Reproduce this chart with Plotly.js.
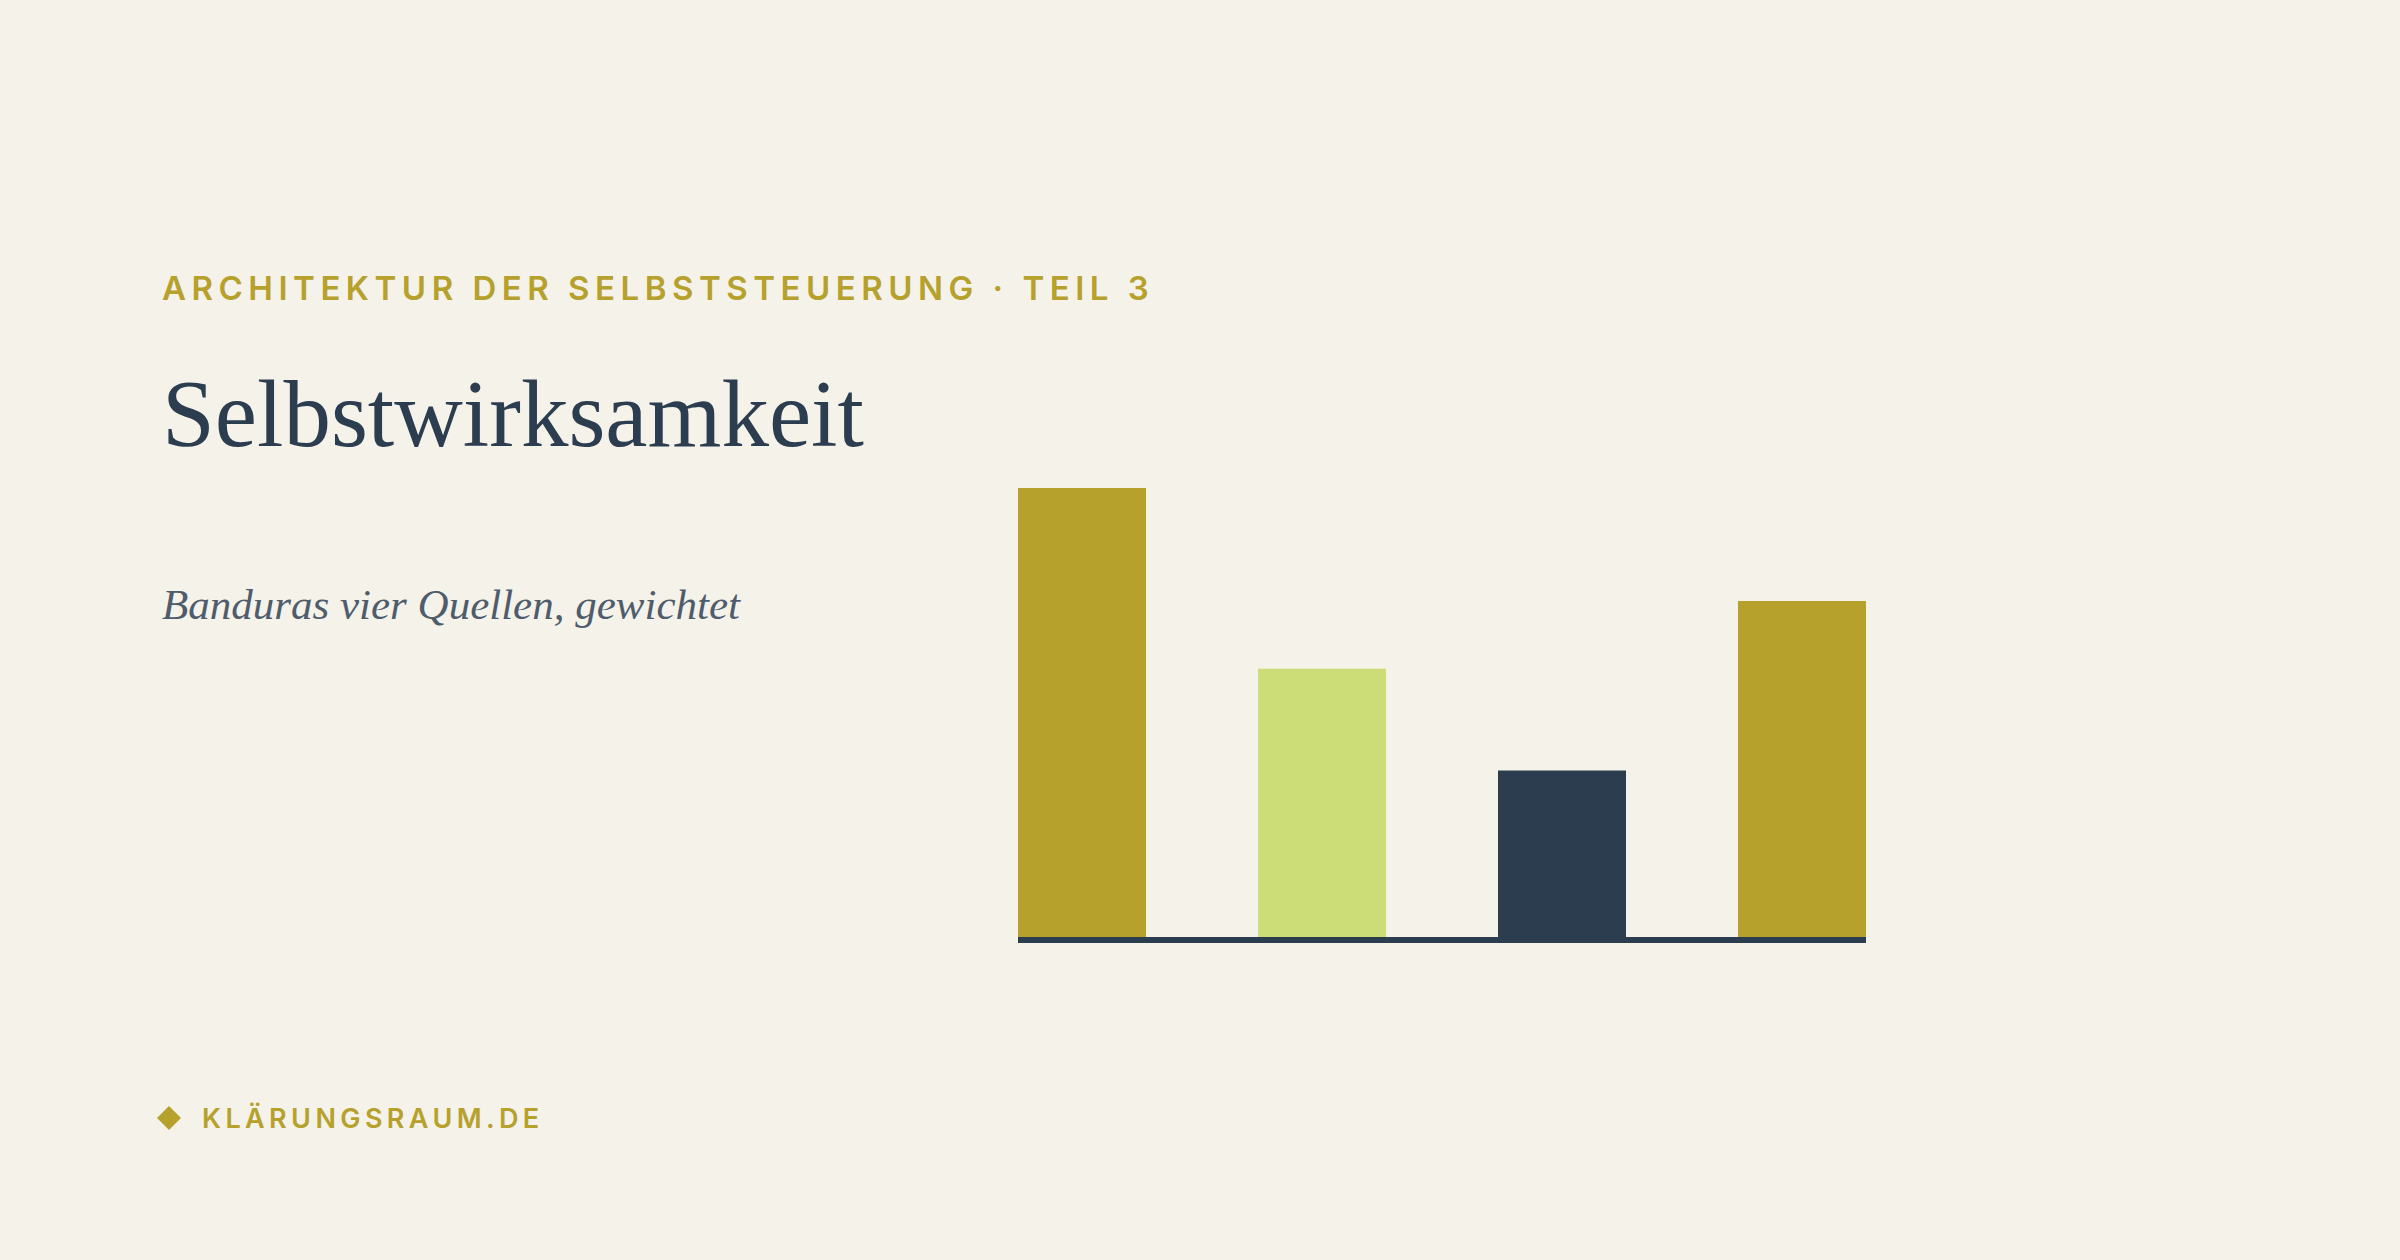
<!DOCTYPE html>
<html>
<head>
<meta charset="utf-8">
<script src="https://cdn.plot.ly/plotly-3.0.1.min.js"></script>
<style>
  html, body { margin: 0; padding: 0; background: #F5F2EA; }
  #chart { width: 2400px; height: 1260px; }
</style>
</head>
<body>
<div id="chart"></div>
<script>
// ---- data ----
const categories = ["Meisterungserfahrungen", "Stellvertretende Erfahrungen", "Verbale Überzeugung", "Physiologische Zustände"];
const weights = [40, 24, 15, 30];
const barColors = ["#B6A12D", "#CCDC76", "#2C3D50", "#B6A12D"];
const kicker = "ARCHITEKTUR DER SELBSTSTEUERUNG · TEIL 3";
const headline = "Selbstwirksamkeit";
const subline = "Banduras vier Quellen, gewichtet";
const footer = "KLÄRUNGSRAUM.DE";

// ---- layout helpers (pixel -> paper) ----
const W = 2400, H = 1260;
const M = { l: 1018, r: 534, t: 488, b: 320 };
const PW = W - M.l - M.r, PH = H - M.t - M.b;
const px = x => (x - M.l) / PW;
const py = y => (H - M.b - y) / PH;

const navy = "#2C3D50";
const olive = "#B6A12D";

const trace = {
  type: "bar",
  x: categories,
  y: weights,
  width: 128 / 240,
  marker: { color: barColors, line: { width: 0 } },
  hoverinfo: "x+y"
};

const dx = 12;
const layout = {
  width: W, height: H,
  margin: M,
  paper_bgcolor: "#F5F2EA",
  plot_bgcolor: "#F5F2EA",
  showlegend: false,
  xaxis: { type: "category", range: [-64/240, 3 + 64/240], showticklabels: false, showgrid: false, zeroline: false, showline: false, ticks: "", fixedrange: true },
  yaxis: { range: [0, 40], showticklabels: false, showgrid: false, zeroline: false, showline: false, ticks: "", fixedrange: true },
  shapes: [
    { type: "line", xref: "paper", yref: "paper", x0: 0, x1: 1, y0: py(940), y1: py(940), layer: "above", line: { color: navy, width: 6 } },
    { type: "path", xref: "paper", yref: "paper",
      path: `M ${px(169-dx)} ${py(1118)} L ${px(169)} ${py(1118-dx)} L ${px(169+dx)} ${py(1118)} L ${px(169)} ${py(1118+dx)} Z`,
      fillcolor: olive, line: { width: 0 } }
  ],
  annotations: [
    { text: kicker, xref: "paper", yref: "paper", x: px(160), y: py(288), xanchor: "left", yanchor: "middle", align: "left", showarrow: false,
      font: { family: "Inter, 'Open Sans', sans-serif", size: 33, color: olive, weight: 600 } },
    { text: headline, xref: "paper", yref: "paper", x: px(160), y: py(414), xanchor: "left", yanchor: "middle", align: "left", showarrow: false,
      font: { family: "'Liberation Serif', 'DejaVu Serif', serif", size: 95, color: navy } },
    { text: "<i>" + subline + "</i>", xref: "paper", yref: "paper", x: px(160), y: py(604), xanchor: "left", yanchor: "middle", align: "left", showarrow: false,
      font: { family: "'Liberation Serif', 'DejaVu Serif', serif", size: 43, color: "#4E5C6C" } },
    { text: footer, xref: "paper", yref: "paper", x: px(200), y: py(1118), xanchor: "left", yanchor: "middle", align: "left", showarrow: false,
      font: { family: "Inter, 'Open Sans', sans-serif", size: 27, color: olive, weight: 600 } }
  ]
};

Plotly.newPlot("chart", [trace], layout, { displayModeBar: false, staticPlot: true }).then(() => {
  const spacing = { 0: "5.5px", 3: "4.4px" };
  document.querySelectorAll("#chart .annotation").forEach(a => {
    const i = a.getAttribute("data-index");
    if (spacing[i]) {
      a.querySelectorAll("text").forEach(t => { t.style.letterSpacing = spacing[i]; });
    }
  });
});
</script>
</body>
</html>
